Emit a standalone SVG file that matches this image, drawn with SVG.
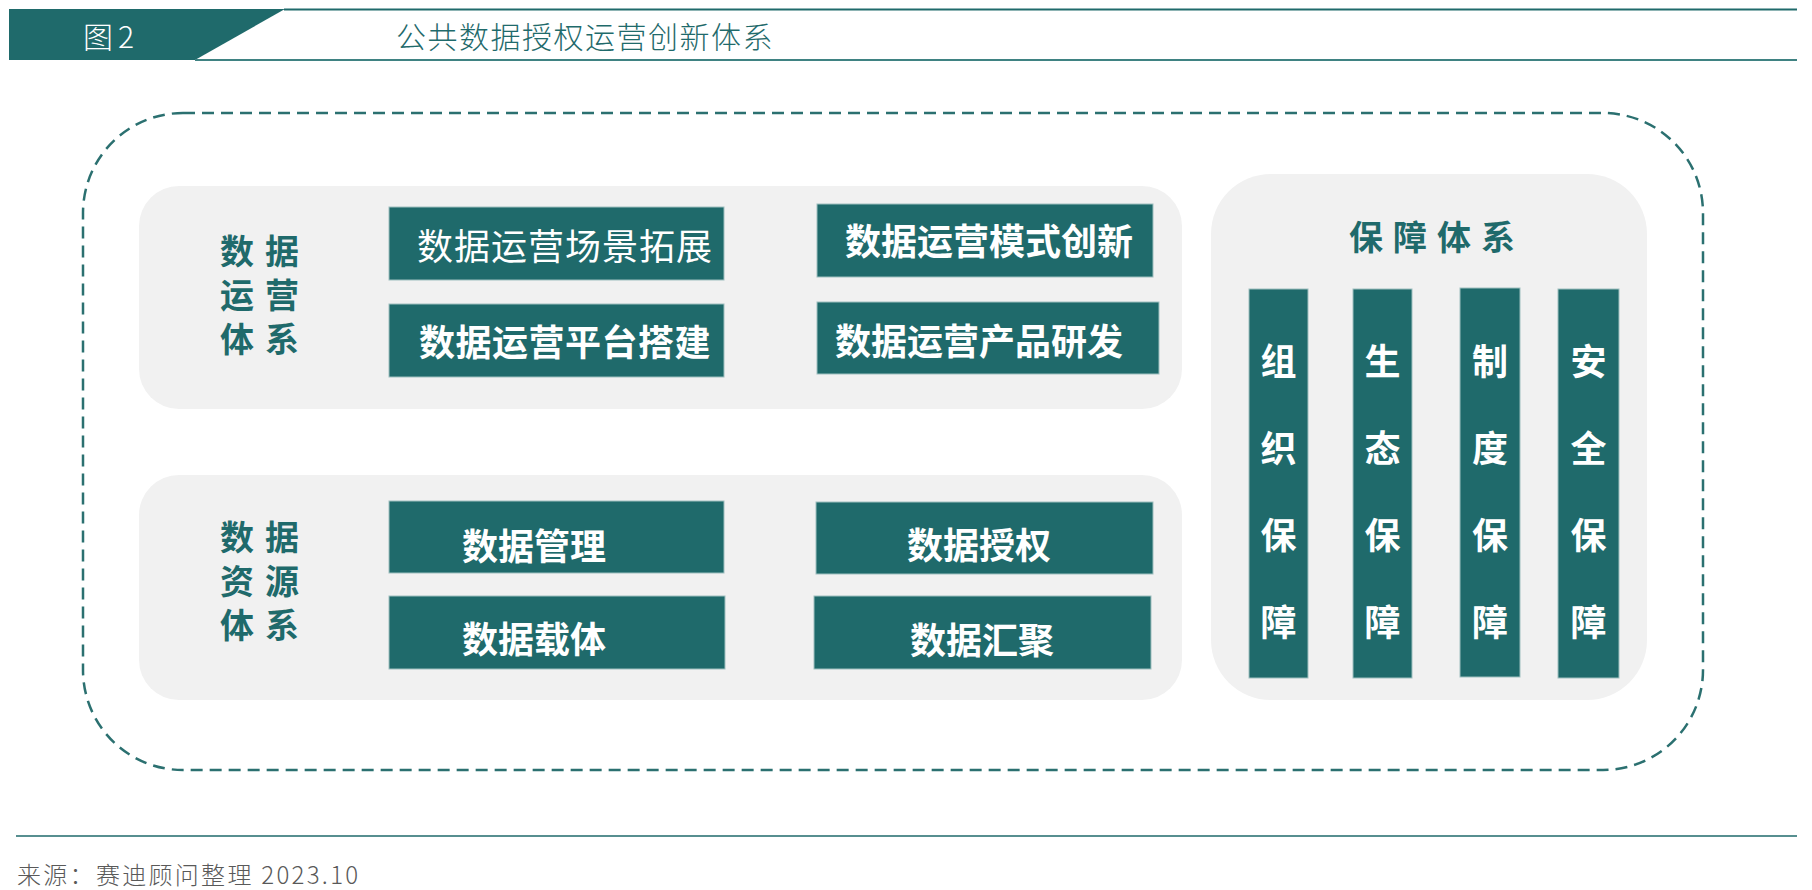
<svg xmlns="http://www.w3.org/2000/svg" width="1812" height="890" viewBox="0 0 1812 890">
<style>
.t{font-family:"Noto Sans CJK SC","Noto Sans",sans-serif;dominant-baseline:central}
.box{fill:#1f6a6b;stroke:#9fc0c0;stroke-width:1}
.panel{fill:#f1f1f1}
.wb{fill:#fff;font-weight:700;font-size:36px}
.lbl{fill:#1f6a6b;font-weight:700;font-size:34px;letter-spacing:11px}
.col{fill:#fff;font-weight:700;font-size:36px;text-anchor:middle}
</style>
<rect width="1812" height="890" fill="#fff"/>
<g id="header">
<polygon points="9,9 285,9 195,60 9,60" fill="#1f6a6b"/>
<line x1="284" y1="9.5" x2="1797" y2="9.5" stroke="#1f6a6b" stroke-width="2"/>
<line x1="195" y1="60" x2="1797" y2="60" stroke="#3f8282" stroke-width="2"/>
<text class="t" x="83" y="35" font-size="30" fill="#fff" font-weight="300" letter-spacing="5">图2</text>
<text class="t" x="396" y="35" font-size="30" fill="#1f6a6b" font-weight="300" letter-spacing="1.5">公共数据授权运营创新体系</text>
</g>
<g id="frame">
<rect x="83" y="113" width="1620" height="657" rx="100" fill="none" stroke="#2b7070" stroke-width="2.5" stroke-dasharray="12 7"/>
</g>
<g id="ops-panel">
<rect class="panel" x="139" y="186" width="1043" height="223" rx="40"/>
<text class="t lbl" x="220"><tspan x="220" y="249">数据</tspan><tspan x="220" y="293">运营</tspan><tspan x="220" y="337">体系</tspan></text>
</g>
<g id="ops-scene">
<rect class="box" x="389" y="207" width="335" height="73"/>
<text class="t" x="417" y="243.5" font-size="36" fill="#fff" font-weight="400" letter-spacing="1">数据运营场景拓展</text>
</g>
<g id="ops-platform">
<rect class="box" x="389" y="304" width="335" height="73"/>
<text class="t wb" x="419" y="340" letter-spacing="0.5">数据运营平台搭建</text>
</g>
<g id="ops-mode">
<rect class="box" x="817" y="204" width="336" height="73"/>
<text class="t wb" x="845" y="239" letter-spacing="0">数据运营模式创新</text>
</g>
<g id="ops-product">
<rect class="box" x="817" y="302" width="342" height="72"/>
<text class="t wb" x="835" y="338.5">数据运营产品研发</text>
</g>
<g id="res-panel">
<rect class="panel" x="139" y="475" width="1043" height="225" rx="40"/>
<text class="t lbl" x="220"><tspan x="220" y="535">数据</tspan><tspan x="220" y="579">资源</tspan><tspan x="220" y="623">体系</tspan></text>
</g>
<g id="res-manage">
<rect class="box" x="389" y="501" width="335" height="72"/>
<text class="t wb" x="462" y="544">数据管理</text>
</g>
<g id="res-auth">
<rect class="box" x="816" y="502" width="337" height="72"/>
<text class="t wb" x="907" y="542.5">数据授权</text>
</g>
<g id="res-carrier">
<rect class="box" x="389" y="596" width="336" height="73"/>
<text class="t wb" x="462" y="636.5">数据载体</text>
</g>
<g id="res-gather">
<rect class="box" x="814" y="596" width="337" height="73"/>
<text class="t wb" x="910" y="637.5">数据汇聚</text>
</g>
<g id="guard-panel">
<rect class="panel" x="1211" y="174" width="436" height="526" rx="60"/>
<text class="t" x="1349" y="235" font-size="34" font-weight="700" fill="#1f6a6b" letter-spacing="10">保障体系</text>
</g>
<g id="guard-org">
<rect class="box" x="1249" y="289" width="59" height="389"/>
<text class="t col"><tspan x="1278.5" y="359">组</tspan><tspan x="1278.5" y="446">织</tspan><tspan x="1278.5" y="533">保</tspan><tspan x="1278.5" y="620">障</tspan></text>
</g>
<g id="guard-eco">
<rect class="box" x="1353" y="289" width="59" height="389"/>
<text class="t col"><tspan x="1382.5" y="359">生</tspan><tspan x="1382.5" y="446">态</tspan><tspan x="1382.5" y="533">保</tspan><tspan x="1382.5" y="620">障</tspan></text>
</g>
<g id="guard-system">
<rect class="box" x="1460" y="288" width="60" height="389"/>
<text class="t col"><tspan x="1490" y="359">制</tspan><tspan x="1490" y="446">度</tspan><tspan x="1490" y="533">保</tspan><tspan x="1490" y="620">障</tspan></text>
</g>
<g id="guard-security">
<rect class="box" x="1558" y="289" width="61" height="389"/>
<text class="t col"><tspan x="1588.5" y="359">安</tspan><tspan x="1588.5" y="446">全</tspan><tspan x="1588.5" y="533">保</tspan><tspan x="1588.5" y="620">障</tspan></text>
</g>
<g id="connectors"></g>
<g id="footer">
<line x1="16" y1="836" x2="1797" y2="836" stroke="#1f6a6b" stroke-width="1.5"/>
<text class="t" x="17" y="873" font-size="24" fill="#595959" font-weight="300" letter-spacing="2.3">来源：赛迪顾问整理 2023.10</text>
</g>
</svg>
